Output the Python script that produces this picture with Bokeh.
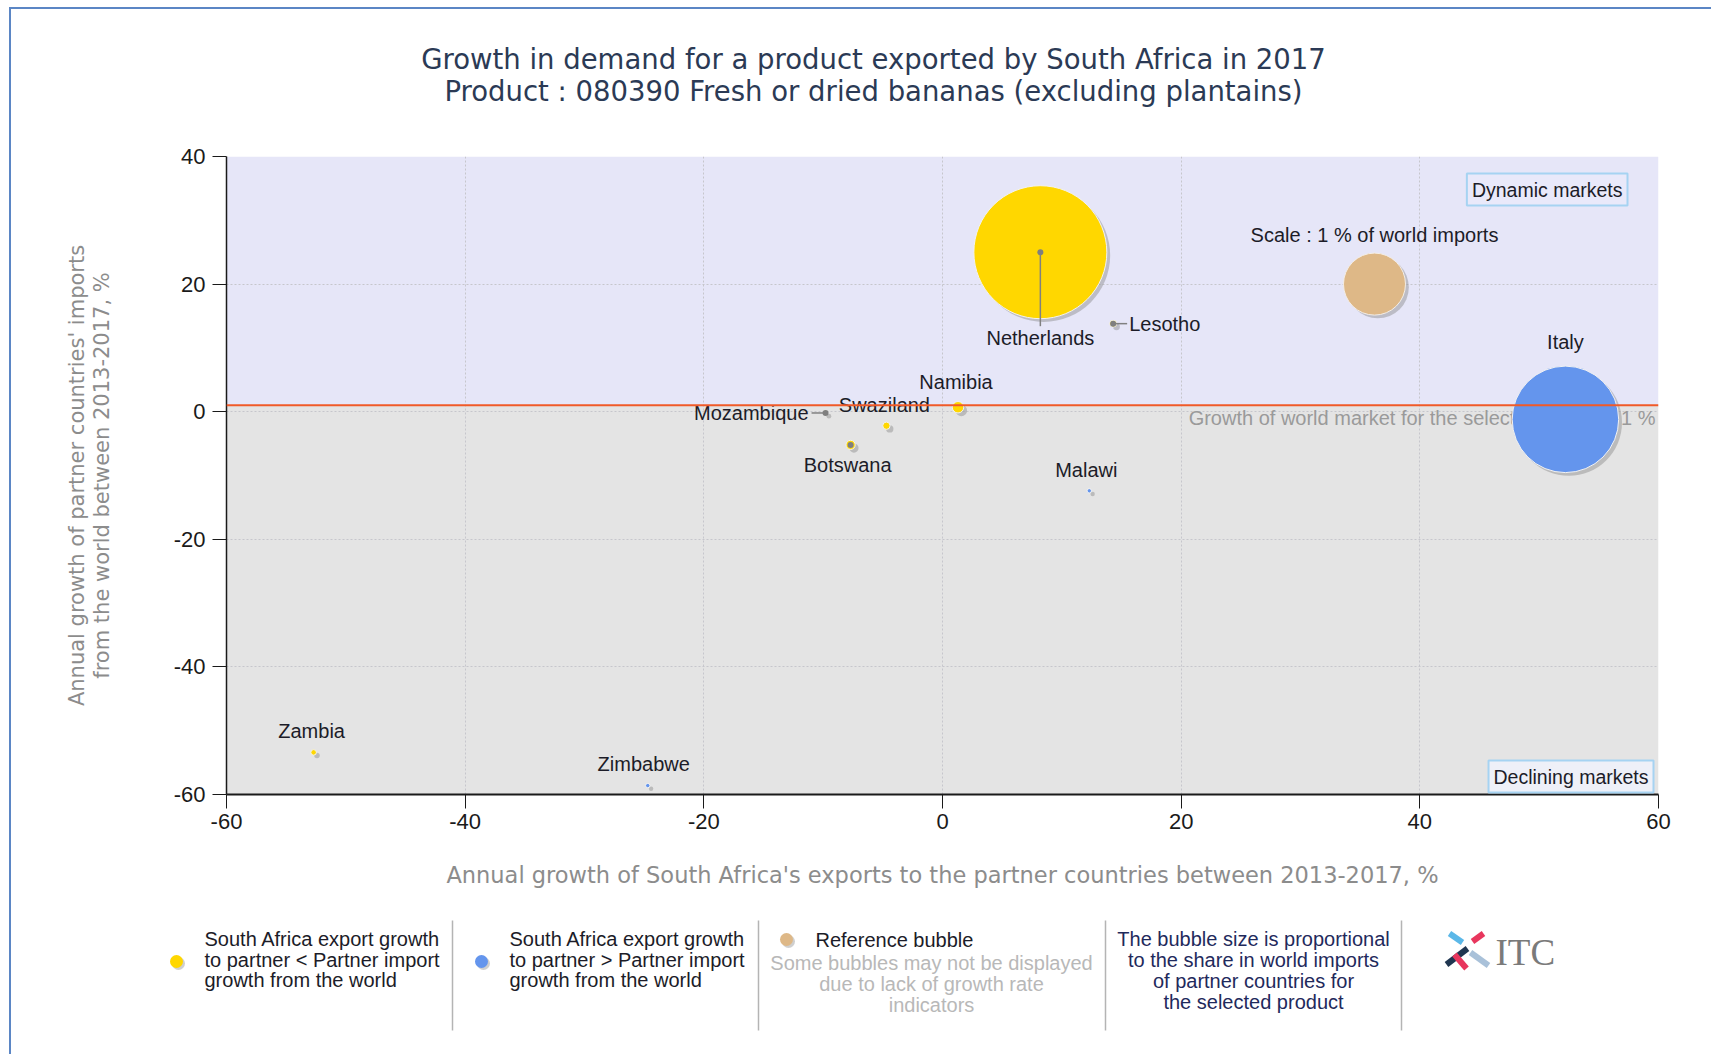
import math
from bokeh.plotting import figure
from bokeh.layouts import column
from bokeh.models import (Range1d, BoxAnnotation, Span, Label, ColumnDataSource,
                          FixedTicker, PrintfTickFormatter)
from bokeh.transform import dodge
from bokeh.core.properties import value
from bokeh.embed import file_html
from bokeh.resources import INLINE

# ---------------- data ----------------
TITLE_LINES = ["Growth in demand for a product exported by South Africa in 2017",
               "Product : 080390 Fresh or dried bananas (excluding plantains)"]
X_LABEL = "Annual growth of South Africa's exports to the partner countries between 2013-2017, %"
Y_LABEL = "Annual growth of partner countries' imports\nfrom the world between 2013-2017, %"

COUNTRIES = ["Netherlands", "Italy", "Lesotho", "Namibia", "Swaziland",
             "Mozambique", "Botswana", "Malawi", "Zambia", "Zimbabwe"]
EXPORT_GROWTH = [8.2, 52.2, 14.3, 1.3, -4.7, -9.8, -7.7, 12.3, -52.7, -24.7]
IMPORT_GROWTH = [25.0, -1.2, 13.8, 0.7, -2.2, -0.2, -5.2, -12.4, -53.4, -58.6]
IMPORT_SHARE = [4.6, 2.95, 0.012, 0.034, 0.014, 0.006, 0.022, 0.005, 0.008, 0.005]
GROUP = ["lt", "gt", "lt", "lt", "lt", "lt", "lt", "gt", "lt", "gt"]

WORLD_GROWTH = 1.0
REF_X, REF_Y, REF_SHARE = 36.2, 20.0, 1.0
X_TICKS = [-60, -40, -20, 0, 20, 40, 60]
Y_TICKS = [-60, -40, -20, 0, 20, 40]

LEGEND_LT = ["South Africa export growth", "to partner < Partner import", "growth from the world"]
LEGEND_GT = ["South Africa export growth", "to partner > Partner import", "growth from the world"]
LEGEND_REF = "Reference bubble"
LEGEND_NOTE = ["Some bubbles may not be displayed", "due to lack of growth rate", "indicators"]
LEGEND_SIZE = ["The bubble size is proportional", "to the share in world imports",
               "of partner countries for", "the selected product"]

# ---------------- styles ----------------
COL_LT = "#FFD700"
COL_GT = "#6495ED"
COL_REF = "#DEB887"
REF_DIAM = 62
FONT = "Liberation Sans"
FONT_T = "DejaVu Sans"
TXT = "#1C1C28"
BORDER = "2px solid #5B86C5"

LABEL_STYLE = {  # dx, dy (px, down positive), align
    "Netherlands": (0, 86, "center"),
    "Italy": (0, -77, "center"),
    "Lesotho": (16, 0, "left"),
    "Namibia": (-2, -25, "center"),
    "Swaziland": (-2, -21, "center"),
    "Mozambique": (-17, 0, "right"),
    "Botswana": (-3, 20, "center"),
    "Malawi": (-3, -21, "center"),
    "Zambia": (-2, -21, "center"),
    "Zimbabwe": (-4, -22, "center"),
}
LEADERS = {"Netherlands": (-math.pi / 2, 74), "Lesotho": (0.0, 14), "Mozambique": (math.pi, 14)}
ANCHORS = ["Netherlands", "Lesotho", "Mozambique", "Botswana"]

W = 1700
BL, BR = 215, 53          # frame borders of the chart
FX0, FX1 = BL, W - BR

def blank(fig):
    fig.axis.visible = False
    fig.grid.visible = False
    fig.outline_line_color = None

# ---------------- title figure ----------------
pt = figure(width=W, height=110, x_range=Range1d(FX0, FX1), y_range=Range1d(110, 0),
            toolbar_location=None, output_backend="svg", min_border_left=BL,
            min_border_right=BR, min_border_top=0, min_border_bottom=0)
blank(pt)
pt.text(x=[862, 862], y=[49, 81], text=TITLE_LINES, text_align="center",
        text_baseline="middle", text_font=value(FONT_T), text_font_size="27.5px",
        text_color="#2B3A55")

# ---------------- main figure ----------------
p = figure(width=W, height=37 + 638 + 100, x_range=Range1d(X_TICKS[0], X_TICKS[-1]),
           y_range=Range1d(Y_TICKS[0], Y_TICKS[-1]), toolbar_location=None,
           output_backend="svg", min_border_left=BL, min_border_right=BR,
           min_border_top=37, min_border_bottom=100)
p.outline_line_color = None

p.add_layout(BoxAnnotation(bottom=WORLD_GROWTH, fill_color="#E6E6F8", fill_alpha=1,
                           line_color=None, level="image"))
p.add_layout(BoxAnnotation(top=WORLD_GROWTH, fill_color="#E4E4E4", fill_alpha=1,
                           line_color=None, level="image"))

p.xaxis.ticker = FixedTicker(ticks=X_TICKS)
p.yaxis.ticker = FixedTicker(ticks=Y_TICKS)
for g in p.grid:
    g.grid_line_color = "#C6C6CC"
    g.grid_line_dash = "2 2"
    g.grid_line_width = 1
for ax in (p.xaxis[0], p.yaxis[0]):
    ax.formatter = PrintfTickFormatter(format="%d")
    ax.major_tick_in = 0
    ax.major_tick_out = 14
    ax.minor_tick_line_color = None
    ax.axis_line_color = "#1A1A1A"
    ax.major_tick_line_color = "#1A1A1A"
    ax.major_label_text_font = FONT
    ax.major_label_text_font_size = "22px"
    ax.major_label_text_color = "#1A1A1A"
    ax.axis_label_text_font = FONT_T
    ax.axis_label_text_font_style = "normal"
    ax.axis_label_text_color = "#8C8C8C"
p.xaxis.axis_label_text_font_size = "22.5px"
p.yaxis.axis_label_text_font_size = "21px"
p.yaxis.axis_label_text_line_height = 1.05
p.xaxis.axis_line_width = 2
p.yaxis.axis_line_width = 1.5
p.xaxis.major_label_standoff = 5
p.yaxis.major_label_standoff = 7
p.xaxis.axis_label = X_LABEL
p.yaxis.axis_label = Y_LABEL
p.xaxis.axis_label_standoff = 30
p.yaxis.axis_label_standoff = 57

p.add_layout(Span(location=WORLD_GROWTH, dimension="width", line_color="#F05A28",
                  line_width=2))
p.text(x=[X_TICKS[-1]], y=[WORLD_GROWTH],
       text=["Growth of world market for the selected product: 1 %"],
       x_offset=-3, y_offset=13, text_align="right", text_baseline="middle",
       text_font=value(FONT), text_font_size="20px", text_color="#9A9A9A")

colors = [COL_LT if g == "lt" else COL_GT for g in GROUP]
diam = [max(REF_DIAM * math.sqrt(s), 4) for s in IMPORT_SHARE]
src = ColumnDataSource(dict(x=EXPORT_GROWTH, y=IMPORT_GROWTH, name=COUNTRIES,
                            share=IMPORT_SHARE, size=diam, color=colors,
                            dx=[LABEL_STYLE[c][0] for c in COUNTRIES],
                            dy=[LABEL_STYLE[c][1] for c in COUNTRIES],
                            align=[LABEL_STYLE[c][2] for c in COUNTRIES]))
ref_src = ColumnDataSource(dict(x=[REF_X], y=[REF_Y], size=[REF_DIAM * math.sqrt(REF_SHARE)]))

# shadows
for s in (src, ref_src):
    p.scatter(x=dodge("x", 0.28, range=p.x_range), y=dodge("y", -0.5, range=p.y_range),
              size="size", source=s, fill_color="#8A8A8A", fill_alpha=0.45, line_color=None)
p.scatter(x="x", y="y", size="size", source=ref_src, fill_color=COL_REF,
          line_color="#F4EEE6", line_width=1)
p.scatter(x="x", y="y", size="size", source=src, fill_color="color",
          line_color="#F2F2F2", line_width=1)

# leader lines & anchor dots
lead = [c for c in COUNTRIES if c in LEADERS]
lsrc = ColumnDataSource(dict(
    x=[EXPORT_GROWTH[COUNTRIES.index(c)] for c in lead],
    y=[IMPORT_GROWTH[COUNTRIES.index(c)] for c in lead],
    angle=[LEADERS[c][0] for c in lead],
    length=[LEADERS[c][1] for c in lead]))
p.ray(x="x", y="y", angle="angle", length="length", length_units="screen",
      source=lsrc, line_color="#808080", line_width=1.5)
asrc = ColumnDataSource(dict(
    x=[EXPORT_GROWTH[COUNTRIES.index(c)] for c in ANCHORS],
    y=[IMPORT_GROWTH[COUNTRIES.index(c)] for c in ANCHORS]))
p.scatter(x="x", y="y", size=6, source=asrc, fill_color="#7F7F7F", line_color=None)

p.text(x="x", y="y", text="name", x_offset="dx", y_offset="dy",
       text_align={"field": "align"}, text_baseline="middle", source=src,
       text_font=value(FONT), text_font_size="20px", text_color=TXT)

p.add_layout(Label(x=REF_X, y=REF_Y, y_offset=49, text="Scale : 1 % of world imports",
                   text_align="center", text_baseline="middle", text_font=FONT,
                   text_font_size="20px", text_color=TXT))
p.add_layout(Label(x=X_TICKS[-1], y=Y_TICKS[-1], x_offset=-31, y_offset=-17,
                   text="Dynamic markets", text_align="right", text_baseline="top",
                   text_font=FONT, text_font_size="19.5px", text_color=TXT,
                   border_line_color="#A6D3F2", border_line_width=2,
                   background_fill_color="#E9E9FA", padding=5))
p.add_layout(Label(x=X_TICKS[-1], y=Y_TICKS[0], x_offset=-5, y_offset=2,
                   text="Declining markets", text_align="right", text_baseline="bottom",
                   text_font=FONT, text_font_size="19.5px", text_color=TXT,
                   border_line_color="#A6D3F2", border_line_width=2,
                   background_fill_color="#EEF0F8", padding=5))

# ---------------- legend figure (separate root, full-width frame) ----------------
pl = figure(width=W, height=160, x_range=Range1d(0, W), y_range=Range1d(160, 0),
            toolbar_location=None, output_backend="svg", min_border=0,
            min_border_left=0, min_border_right=0, min_border_top=0, min_border_bottom=0,
            margin=(0, 0, 0, 9), styles={"border-left": BORDER})
blank(pl)
pl.segment(x0=[441, 747, 1094, 1390], y0=[26] * 4, x1=[441, 747, 1094, 1390], y1=[136] * 4,
           line_color="#B4B4B4", line_width=1.5)
pl.scatter(x=[167, 472, 777], y=[69, 69, 47], size=13, fill_color="#A8A8A8",
           fill_alpha=0.55, line_color=None)
pl.scatter(x=[165, 470, 775], y=[67, 67, 45], size=13,
           fill_color=[COL_LT, COL_GT, COL_REF], line_color=None)

def txt(x, ys, lines, align="left", color=TXT):
    pl.text(x=[x] * len(lines), y=ys, text=lines, text_align=align, text_baseline="middle",
            text_font=value(FONT), text_font_size="20px", text_color=color)

txt(193, [44, 65, 85], LEGEND_LT)
txt(498, [44, 65, 85], LEGEND_GT)
txt(804, [45], [LEGEND_REF])
txt(920, [68, 89, 110], LEGEND_NOTE, "center", "#B8B8B8")
txt(1242, [44, 65, 86, 107], LEGEND_SIZE, "center", "#1F2A5C")

# ITC logo
pl.segment(x0=[1438, 1459, 1435, 1461, 1443], y0=[39, 58, 70, 47, 60],
           x1=[1451, 1477, 1456, 1472, 1455], y1=[48, 71, 54, 39, 74],
           line_color=["#5BB8E8", "#A9C1D9", "#1F3550", "#E8365D", "#E8365D"],
           line_width=6, line_cap="butt")
pl.text(x=[1484], y=[58], text=["ITC"], text_baseline="middle",
        text_font=value("Liberation Serif"), text_font_size="37px", text_color="#7A7A7A")

top = column(pt, p, spacing=0, margin=(7, 0, 0, 9),
             styles={"border-left": BORDER, "border-top": BORDER})

open("out.html", "w").write(file_html([top, pl], INLINE))
